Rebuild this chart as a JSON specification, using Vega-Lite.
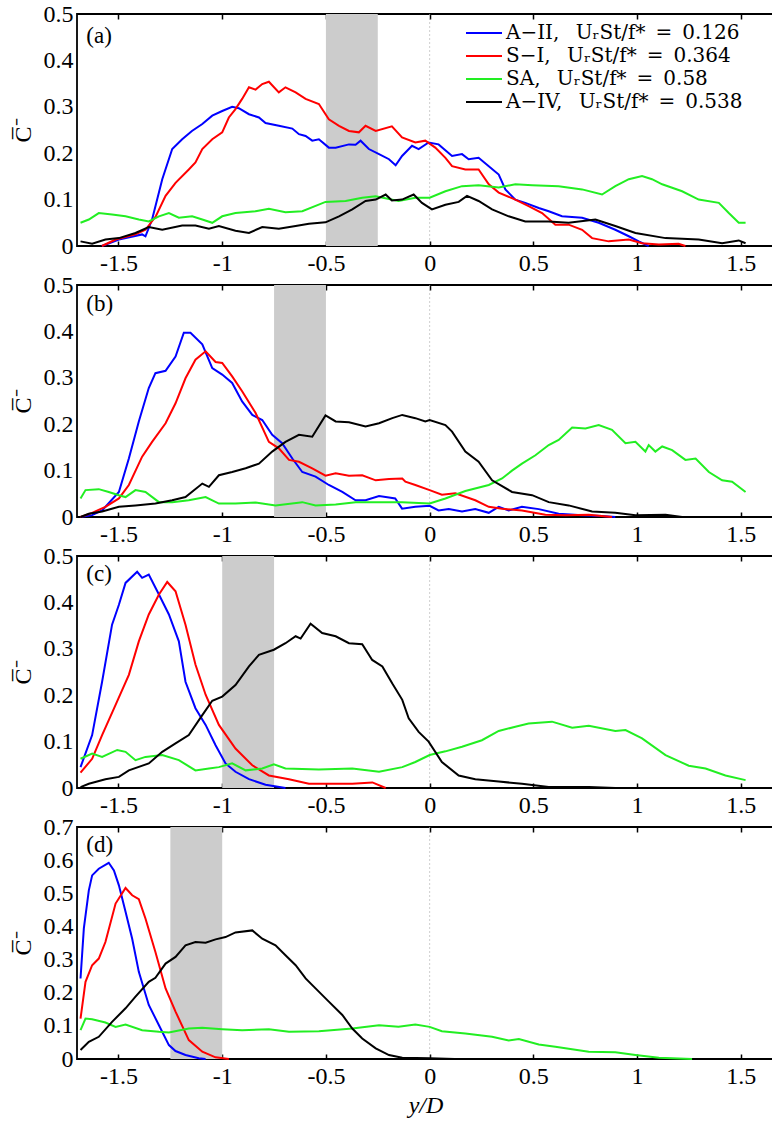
{
"$schema": "https://vega.github.io/schema/vega-lite/v6.json",
"padding": {"left": 10, "top": 1, "right": 0, "bottom": 2},
"background": "white",
"config": {
  "view": {"stroke": "black", "strokeWidth": 1.8},
  "font": "Liberation Serif"
},
"datasets": {
  "bands": [{"p":"a","lo":-0.5,"hi":-0.25},{"p":"b","lo":-0.75,"hi":-0.5},{"p":"c","lo":-1.0,"hi":-0.75},{"p":"d","lo":-1.25,"hi":-1.0}],
  "labs": [{"p":"a","t":"(a)","lx":-1.655,"ly":0.452},{"p":"b","t":"(b)","lx":-1.655,"ly":0.459},{"p":"c","t":"(c)","lx":-1.655,"ly":0.461},{"p":"d","t":"(d)","lx":-1.655,"ly":0.645}],
  "zero": [{"z":0}],
  "d": [
{"p":"a","s":"A-II","x":-1.58,"y":0},{"p":"a","s":"A-II","x":-1.498,"y":0.014},{"p":"a","s":"A-II","x":-1.386,"y":0.025},{"p":"a","s":"A-II","x":-1.37,"y":0.021},{"p":"a","s":"A-II","x":-1.338,"y":0.057},{"p":"a","s":"A-II","x":-1.289,"y":0.144},{"p":"a","s":"A-II","x":-1.241,"y":0.209},{"p":"a","s":"A-II","x":-1.193,"y":0.23},{"p":"a","s":"A-II","x":-1.146,"y":0.248},{"p":"a","s":"A-II","x":-1.096,"y":0.263},{"p":"a","s":"A-II","x":-1.048,"y":0.281},{"p":"a","s":"A-II","x":-1.0,"y":0.291},{"p":"a","s":"A-II","x":-0.952,"y":0.3},{"p":"a","s":"A-II","x":-0.92,"y":0.297},{"p":"a","s":"A-II","x":-0.871,"y":0.284},{"p":"a","s":"A-II","x":-0.823,"y":0.277},{"p":"a","s":"A-II","x":-0.791,"y":0.265},{"p":"a","s":"A-II","x":-0.727,"y":0.259},{"p":"a","s":"A-II","x":-0.662,"y":0.253},{"p":"a","s":"A-II","x":-0.63,"y":0.241},{"p":"a","s":"A-II","x":-0.598,"y":0.237},{"p":"a","s":"A-II","x":-0.566,"y":0.227},{"p":"a","s":"A-II","x":-0.534,"y":0.23},{"p":"a","s":"A-II","x":-0.486,"y":0.212},{"p":"a","s":"A-II","x":-0.453,"y":0.212},{"p":"a","s":"A-II","x":-0.389,"y":0.219},{"p":"a","s":"A-II","x":-0.357,"y":0.218},{"p":"a","s":"A-II","x":-0.333,"y":0.227},{"p":"a","s":"A-II","x":-0.293,"y":0.209},{"p":"a","s":"A-II","x":-0.244,"y":0.198},{"p":"a","s":"A-II","x":-0.196,"y":0.187},{"p":"a","s":"A-II","x":-0.164,"y":0.174},{"p":"a","s":"A-II","x":-0.133,"y":0.194},{"p":"a","s":"A-II","x":-0.085,"y":0.216},{"p":"a","s":"A-II","x":-0.053,"y":0.209},{"p":"a","s":"A-II","x":-0.005,"y":0.223},{"p":"a","s":"A-II","x":0.043,"y":0.219},{"p":"a","s":"A-II","x":0.108,"y":0.194},{"p":"a","s":"A-II","x":0.156,"y":0.198},{"p":"a","s":"A-II","x":0.188,"y":0.187},{"p":"a","s":"A-II","x":0.236,"y":0.19},{"p":"a","s":"A-II","x":0.285,"y":0.172},{"p":"a","s":"A-II","x":0.333,"y":0.154},{"p":"a","s":"A-II","x":0.365,"y":0.122},{"p":"a","s":"A-II","x":0.413,"y":0.1},{"p":"a","s":"A-II","x":0.461,"y":0.093},{"p":"a","s":"A-II","x":0.526,"y":0.082},{"p":"a","s":"A-II","x":0.574,"y":0.075},{"p":"a","s":"A-II","x":0.638,"y":0.064},{"p":"a","s":"A-II","x":0.735,"y":0.061},{"p":"a","s":"A-II","x":0.815,"y":0.05},{"p":"a","s":"A-II","x":0.895,"y":0.035},{"p":"a","s":"A-II","x":0.96,"y":0.021},{"p":"a","s":"A-II","x":1.008,"y":0.01},{"p":"a","s":"A-II","x":1.056,"y":0},
{"p":"a","s":"S-I","x":-1.58,"y":0},{"p":"a","s":"S-I","x":-1.514,"y":0.014},{"p":"a","s":"S-I","x":-1.418,"y":0.025},{"p":"a","s":"S-I","x":-1.37,"y":0.035},{"p":"a","s":"S-I","x":-1.32,"y":0.064},{"p":"a","s":"S-I","x":-1.273,"y":0.108},{"p":"a","s":"S-I","x":-1.225,"y":0.136},{"p":"a","s":"S-I","x":-1.161,"y":0.165},{"p":"a","s":"S-I","x":-1.129,"y":0.18},{"p":"a","s":"S-I","x":-1.096,"y":0.209},{"p":"a","s":"S-I","x":-1.048,"y":0.23},{"p":"a","s":"S-I","x":-1.0,"y":0.245},{"p":"a","s":"S-I","x":-0.968,"y":0.277},{"p":"a","s":"S-I","x":-0.936,"y":0.295},{"p":"a","s":"S-I","x":-0.904,"y":0.317},{"p":"a","s":"S-I","x":-0.871,"y":0.342},{"p":"a","s":"S-I","x":-0.839,"y":0.337},{"p":"a","s":"S-I","x":-0.807,"y":0.349},{"p":"a","s":"S-I","x":-0.775,"y":0.354},{"p":"a","s":"S-I","x":-0.727,"y":0.331},{"p":"a","s":"S-I","x":-0.695,"y":0.342},{"p":"a","s":"S-I","x":-0.646,"y":0.331},{"p":"a","s":"S-I","x":-0.598,"y":0.317},{"p":"a","s":"S-I","x":-0.534,"y":0.306},{"p":"a","s":"S-I","x":-0.486,"y":0.273},{"p":"a","s":"S-I","x":-0.437,"y":0.259},{"p":"a","s":"S-I","x":-0.389,"y":0.248},{"p":"a","s":"S-I","x":-0.341,"y":0.245},{"p":"a","s":"S-I","x":-0.309,"y":0.259},{"p":"a","s":"S-I","x":-0.26,"y":0.248},{"p":"a","s":"S-I","x":-0.182,"y":0.258},{"p":"a","s":"S-I","x":-0.133,"y":0.234},{"p":"a","s":"S-I","x":-0.069,"y":0.223},{"p":"a","s":"S-I","x":-0.021,"y":0.227},{"p":"a","s":"S-I","x":0.027,"y":0.212},{"p":"a","s":"S-I","x":0.076,"y":0.19},{"p":"a","s":"S-I","x":0.108,"y":0.172},{"p":"a","s":"S-I","x":0.172,"y":0.165},{"p":"a","s":"S-I","x":0.236,"y":0.165},{"p":"a","s":"S-I","x":0.285,"y":0.133},{"p":"a","s":"S-I","x":0.333,"y":0.115},{"p":"a","s":"S-I","x":0.413,"y":0.1},{"p":"a","s":"S-I","x":0.477,"y":0.086},{"p":"a","s":"S-I","x":0.542,"y":0.071},{"p":"a","s":"S-I","x":0.606,"y":0.046},{"p":"a","s":"S-I","x":0.67,"y":0.046},{"p":"a","s":"S-I","x":0.735,"y":0.035},{"p":"a","s":"S-I","x":0.783,"y":0.017},{"p":"a","s":"S-I","x":0.863,"y":0.01},{"p":"a","s":"S-I","x":0.96,"y":0.014},{"p":"a","s":"S-I","x":1.024,"y":0.006},{"p":"a","s":"S-I","x":1.105,"y":0.003},{"p":"a","s":"S-I","x":1.2,"y":0.005},{"p":"a","s":"S-I","x":1.233,"y":0},
{"p":"a","s":"SA","x":-1.683,"y":0.05},{"p":"a","s":"SA","x":-1.643,"y":0.057},{"p":"a","s":"SA","x":-1.595,"y":0.071},{"p":"a","s":"SA","x":-1.531,"y":0.068},{"p":"a","s":"SA","x":-1.466,"y":0.064},{"p":"a","s":"SA","x":-1.402,"y":0.057},{"p":"a","s":"SA","x":-1.354,"y":0.053},{"p":"a","s":"SA","x":-1.305,"y":0.064},{"p":"a","s":"SA","x":-1.257,"y":0.071},{"p":"a","s":"SA","x":-1.209,"y":0.061},{"p":"a","s":"SA","x":-1.145,"y":0.064},{"p":"a","s":"SA","x":-1.096,"y":0.057},{"p":"a","s":"SA","x":-1.048,"y":0.05},{"p":"a","s":"SA","x":-1.0,"y":0.064},{"p":"a","s":"SA","x":-0.936,"y":0.071},{"p":"a","s":"SA","x":-0.839,"y":0.075},{"p":"a","s":"SA","x":-0.775,"y":0.08},{"p":"a","s":"SA","x":-0.695,"y":0.073},{"p":"a","s":"SA","x":-0.614,"y":0.075},{"p":"a","s":"SA","x":-0.502,"y":0.095},{"p":"a","s":"SA","x":-0.405,"y":0.097},{"p":"a","s":"SA","x":-0.325,"y":0.104},{"p":"a","s":"SA","x":-0.26,"y":0.107},{"p":"a","s":"SA","x":-0.15,"y":0.097},{"p":"a","s":"SA","x":-0.069,"y":0.104},{"p":"a","s":"SA","x":0,"y":0.104},{"p":"a","s":"SA","x":0.076,"y":0.118},{"p":"a","s":"SA","x":0.156,"y":0.129},{"p":"a","s":"SA","x":0.236,"y":0.131},{"p":"a","s":"SA","x":0.333,"y":0.126},{"p":"a","s":"SA","x":0.413,"y":0.133},{"p":"a","s":"SA","x":0.494,"y":0.131},{"p":"a","s":"SA","x":0.622,"y":0.129},{"p":"a","s":"SA","x":0.735,"y":0.122},{"p":"a","s":"SA","x":0.831,"y":0.111},{"p":"a","s":"SA","x":0.895,"y":0.129},{"p":"a","s":"SA","x":0.96,"y":0.144},{"p":"a","s":"SA","x":1.024,"y":0.151},{"p":"a","s":"SA","x":1.072,"y":0.144},{"p":"a","s":"SA","x":1.121,"y":0.133},{"p":"a","s":"SA","x":1.217,"y":0.118},{"p":"a","s":"SA","x":1.297,"y":0.1},{"p":"a","s":"SA","x":1.394,"y":0.093},{"p":"a","s":"SA","x":1.442,"y":0.071},{"p":"a","s":"SA","x":1.49,"y":0.05},{"p":"a","s":"SA","x":1.523,"y":0.05},
{"p":"a","s":"A-IV","x":-1.683,"y":0.01},{"p":"a","s":"A-IV","x":-1.627,"y":0.005},{"p":"a","s":"A-IV","x":-1.563,"y":0.014},{"p":"a","s":"A-IV","x":-1.498,"y":0.017},{"p":"a","s":"A-IV","x":-1.418,"y":0.028},{"p":"a","s":"A-IV","x":-1.354,"y":0.041},{"p":"a","s":"A-IV","x":-1.289,"y":0.035},{"p":"a","s":"A-IV","x":-1.193,"y":0.044},{"p":"a","s":"A-IV","x":-1.129,"y":0.044},{"p":"a","s":"A-IV","x":-1.064,"y":0.037},{"p":"a","s":"A-IV","x":-1.016,"y":0.043},{"p":"a","s":"A-IV","x":-0.936,"y":0.033},{"p":"a","s":"A-IV","x":-0.871,"y":0.028},{"p":"a","s":"A-IV","x":-0.807,"y":0.041},{"p":"a","s":"A-IV","x":-0.727,"y":0.037},{"p":"a","s":"A-IV","x":-0.646,"y":0.043},{"p":"a","s":"A-IV","x":-0.582,"y":0.048},{"p":"a","s":"A-IV","x":-0.502,"y":0.051},{"p":"a","s":"A-IV","x":-0.437,"y":0.064},{"p":"a","s":"A-IV","x":-0.373,"y":0.079},{"p":"a","s":"A-IV","x":-0.309,"y":0.097},{"p":"a","s":"A-IV","x":-0.26,"y":0.1},{"p":"a","s":"A-IV","x":-0.212,"y":0.111},{"p":"a","s":"A-IV","x":-0.182,"y":0.098},{"p":"a","s":"A-IV","x":-0.133,"y":0.1},{"p":"a","s":"A-IV","x":-0.077,"y":0.111},{"p":"a","s":"A-IV","x":-0.037,"y":0.093},{"p":"a","s":"A-IV","x":0.011,"y":0.079},{"p":"a","s":"A-IV","x":0.076,"y":0.089},{"p":"a","s":"A-IV","x":0.14,"y":0.095},{"p":"a","s":"A-IV","x":0.18,"y":0.108},{"p":"a","s":"A-IV","x":0.236,"y":0.097},{"p":"a","s":"A-IV","x":0.301,"y":0.079},{"p":"a","s":"A-IV","x":0.381,"y":0.064},{"p":"a","s":"A-IV","x":0.461,"y":0.053},{"p":"a","s":"A-IV","x":0.574,"y":0.053},{"p":"a","s":"A-IV","x":0.67,"y":0.05},{"p":"a","s":"A-IV","x":0.799,"y":0.057},{"p":"a","s":"A-IV","x":0.895,"y":0.043},{"p":"a","s":"A-IV","x":0.992,"y":0.028},{"p":"a","s":"A-IV","x":1.137,"y":0.017},{"p":"a","s":"A-IV","x":1.297,"y":0.014},{"p":"a","s":"A-IV","x":1.41,"y":0.006},{"p":"a","s":"A-IV","x":1.49,"y":0.012},{"p":"a","s":"A-IV","x":1.523,"y":0.006},
{"p":"b","s":"A-II","x":-1.683,"y":0},{"p":"b","s":"A-II","x":-1.627,"y":0.004},{"p":"b","s":"A-II","x":-1.579,"y":0.014},{"p":"b","s":"A-II","x":-1.498,"y":0.054},{"p":"b","s":"A-II","x":-1.45,"y":0.126},{"p":"b","s":"A-II","x":-1.402,"y":0.206},{"p":"b","s":"A-II","x":-1.354,"y":0.278},{"p":"b","s":"A-II","x":-1.322,"y":0.31},{"p":"b","s":"A-II","x":-1.273,"y":0.315},{"p":"b","s":"A-II","x":-1.225,"y":0.346},{"p":"b","s":"A-II","x":-1.185,"y":0.397},{"p":"b","s":"A-II","x":-1.153,"y":0.397},{"p":"b","s":"A-II","x":-1.096,"y":0.372},{"p":"b","s":"A-II","x":-1.048,"y":0.321},{"p":"b","s":"A-II","x":-1.0,"y":0.307},{"p":"b","s":"A-II","x":-0.952,"y":0.289},{"p":"b","s":"A-II","x":-0.904,"y":0.249},{"p":"b","s":"A-II","x":-0.855,"y":0.22},{"p":"b","s":"A-II","x":-0.807,"y":0.209},{"p":"b","s":"A-II","x":-0.759,"y":0.177},{"p":"b","s":"A-II","x":-0.711,"y":0.159},{"p":"b","s":"A-II","x":-0.662,"y":0.126},{"p":"b","s":"A-II","x":-0.614,"y":0.097},{"p":"b","s":"A-II","x":-0.55,"y":0.087},{"p":"b","s":"A-II","x":-0.486,"y":0.069},{"p":"b","s":"A-II","x":-0.421,"y":0.054},{"p":"b","s":"A-II","x":-0.357,"y":0.036},{"p":"b","s":"A-II","x":-0.309,"y":0.036},{"p":"b","s":"A-II","x":-0.244,"y":0.045},{"p":"b","s":"A-II","x":-0.196,"y":0.042},{"p":"b","s":"A-II","x":-0.166,"y":0.04},{"p":"b","s":"A-II","x":-0.133,"y":0.018},{"p":"b","s":"A-II","x":-0.069,"y":0.022},{"p":"b","s":"A-II","x":0,"y":0.024},{"p":"b","s":"A-II","x":0.043,"y":0.014},{"p":"b","s":"A-II","x":0.092,"y":0.017},{"p":"b","s":"A-II","x":0.156,"y":0.012},{"p":"b","s":"A-II","x":0.22,"y":0.017},{"p":"b","s":"A-II","x":0.285,"y":0.009},{"p":"b","s":"A-II","x":0.333,"y":0.022},{"p":"b","s":"A-II","x":0.381,"y":0.014},{"p":"b","s":"A-II","x":0.445,"y":0.022},{"p":"b","s":"A-II","x":0.526,"y":0.017},{"p":"b","s":"A-II","x":0.622,"y":0.007},{"p":"b","s":"A-II","x":0.735,"y":0.004},{"p":"b","s":"A-II","x":0.831,"y":0.002},{"p":"b","s":"A-II","x":0.895,"y":0},
{"p":"b","s":"S-I","x":-1.683,"y":0},{"p":"b","s":"S-I","x":-1.627,"y":0.009},{"p":"b","s":"S-I","x":-1.563,"y":0.022},{"p":"b","s":"S-I","x":-1.498,"y":0.04},{"p":"b","s":"S-I","x":-1.45,"y":0.069},{"p":"b","s":"S-I","x":-1.386,"y":0.13},{"p":"b","s":"S-I","x":-1.338,"y":0.162},{"p":"b","s":"S-I","x":-1.273,"y":0.202},{"p":"b","s":"S-I","x":-1.225,"y":0.245},{"p":"b","s":"S-I","x":-1.177,"y":0.299},{"p":"b","s":"S-I","x":-1.129,"y":0.339},{"p":"b","s":"S-I","x":-1.08,"y":0.357},{"p":"b","s":"S-I","x":-1.032,"y":0.334},{"p":"b","s":"S-I","x":-1.0,"y":0.332},{"p":"b","s":"S-I","x":-0.952,"y":0.303},{"p":"b","s":"S-I","x":-0.904,"y":0.271},{"p":"b","s":"S-I","x":-0.839,"y":0.224},{"p":"b","s":"S-I","x":-0.775,"y":0.162},{"p":"b","s":"S-I","x":-0.727,"y":0.148},{"p":"b","s":"S-I","x":-0.678,"y":0.123},{"p":"b","s":"S-I","x":-0.63,"y":0.119},{"p":"b","s":"S-I","x":-0.566,"y":0.105},{"p":"b","s":"S-I","x":-0.502,"y":0.089},{"p":"b","s":"S-I","x":-0.453,"y":0.094},{"p":"b","s":"S-I","x":-0.389,"y":0.089},{"p":"b","s":"S-I","x":-0.325,"y":0.09},{"p":"b","s":"S-I","x":-0.26,"y":0.079},{"p":"b","s":"S-I","x":-0.196,"y":0.082},{"p":"b","s":"S-I","x":-0.132,"y":0.083},{"p":"b","s":"S-I","x":-0.117,"y":0.076},{"p":"b","s":"S-I","x":-0.069,"y":0.069},{"p":"b","s":"S-I","x":0,"y":0.058},{"p":"b","s":"S-I","x":0.059,"y":0.048},{"p":"b","s":"S-I","x":0.124,"y":0.051},{"p":"b","s":"S-I","x":0.22,"y":0.036},{"p":"b","s":"S-I","x":0.285,"y":0.022},{"p":"b","s":"S-I","x":0.349,"y":0.018},{"p":"b","s":"S-I","x":0.445,"y":0.014},{"p":"b","s":"S-I","x":0.558,"y":0.005},{"p":"b","s":"S-I","x":0.654,"y":0.004},{"p":"b","s":"S-I","x":0.767,"y":0.005},{"p":"b","s":"S-I","x":0.879,"y":0},
{"p":"b","s":"SA","x":-1.683,"y":0.04},{"p":"b","s":"SA","x":-1.659,"y":0.058},{"p":"b","s":"SA","x":-1.595,"y":0.06},{"p":"b","s":"SA","x":-1.547,"y":0.054},{"p":"b","s":"SA","x":-1.498,"y":0.047},{"p":"b","s":"SA","x":-1.466,"y":0.043},{"p":"b","s":"SA","x":-1.418,"y":0.058},{"p":"b","s":"SA","x":-1.37,"y":0.054},{"p":"b","s":"SA","x":-1.305,"y":0.032},{"p":"b","s":"SA","x":-1.241,"y":0.032},{"p":"b","s":"SA","x":-1.161,"y":0.036},{"p":"b","s":"SA","x":-1.08,"y":0.043},{"p":"b","s":"SA","x":-1.016,"y":0.029},{"p":"b","s":"SA","x":-0.936,"y":0.029},{"p":"b","s":"SA","x":-0.839,"y":0.031},{"p":"b","s":"SA","x":-0.743,"y":0.025},{"p":"b","s":"SA","x":-0.614,"y":0.032},{"p":"b","s":"SA","x":-0.55,"y":0.025},{"p":"b","s":"SA","x":-0.453,"y":0.027},{"p":"b","s":"SA","x":-0.357,"y":0.032},{"p":"b","s":"SA","x":-0.26,"y":0.032},{"p":"b","s":"SA","x":-0.133,"y":0.032},{"p":"b","s":"SA","x":0,"y":0.029},{"p":"b","s":"SA","x":0.076,"y":0.04},{"p":"b","s":"SA","x":0.172,"y":0.056},{"p":"b","s":"SA","x":0.285,"y":0.069},{"p":"b","s":"SA","x":0.349,"y":0.083},{"p":"b","s":"SA","x":0.397,"y":0.1},{"p":"b","s":"SA","x":0.445,"y":0.115},{"p":"b","s":"SA","x":0.51,"y":0.133},{"p":"b","s":"SA","x":0.574,"y":0.155},{"p":"b","s":"SA","x":0.622,"y":0.166},{"p":"b","s":"SA","x":0.687,"y":0.193},{"p":"b","s":"SA","x":0.751,"y":0.191},{"p":"b","s":"SA","x":0.815,"y":0.198},{"p":"b","s":"SA","x":0.879,"y":0.188},{"p":"b","s":"SA","x":0.944,"y":0.159},{"p":"b","s":"SA","x":0.992,"y":0.162},{"p":"b","s":"SA","x":1.04,"y":0.141},{"p":"b","s":"SA","x":1.056,"y":0.155},{"p":"b","s":"SA","x":1.088,"y":0.141},{"p":"b","s":"SA","x":1.121,"y":0.152},{"p":"b","s":"SA","x":1.169,"y":0.144},{"p":"b","s":"SA","x":1.233,"y":0.123},{"p":"b","s":"SA","x":1.282,"y":0.126},{"p":"b","s":"SA","x":1.346,"y":0.097},{"p":"b","s":"SA","x":1.41,"y":0.079},{"p":"b","s":"SA","x":1.458,"y":0.076},{"p":"b","s":"SA","x":1.523,"y":0.054},
{"p":"b","s":"A-IV","x":-1.683,"y":0},{"p":"b","s":"A-IV","x":-1.643,"y":0.007},{"p":"b","s":"A-IV","x":-1.579,"y":0.012},{"p":"b","s":"A-IV","x":-1.498,"y":0.022},{"p":"b","s":"A-IV","x":-1.418,"y":0.025},{"p":"b","s":"A-IV","x":-1.322,"y":0.029},{"p":"b","s":"A-IV","x":-1.241,"y":0.036},{"p":"b","s":"A-IV","x":-1.177,"y":0.043},{"p":"b","s":"A-IV","x":-1.096,"y":0.072},{"p":"b","s":"A-IV","x":-1.064,"y":0.065},{"p":"b","s":"A-IV","x":-1.016,"y":0.09},{"p":"b","s":"A-IV","x":-0.952,"y":0.097},{"p":"b","s":"A-IV","x":-0.887,"y":0.105},{"p":"b","s":"A-IV","x":-0.823,"y":0.115},{"p":"b","s":"A-IV","x":-0.759,"y":0.141},{"p":"b","s":"A-IV","x":-0.695,"y":0.162},{"p":"b","s":"A-IV","x":-0.63,"y":0.177},{"p":"b","s":"A-IV","x":-0.566,"y":0.173},{"p":"b","s":"A-IV","x":-0.502,"y":0.219},{"p":"b","s":"A-IV","x":-0.453,"y":0.206},{"p":"b","s":"A-IV","x":-0.389,"y":0.204},{"p":"b","s":"A-IV","x":-0.309,"y":0.195},{"p":"b","s":"A-IV","x":-0.244,"y":0.202},{"p":"b","s":"A-IV","x":-0.18,"y":0.213},{"p":"b","s":"A-IV","x":-0.132,"y":0.22},{"p":"b","s":"A-IV","x":-0.069,"y":0.213},{"p":"b","s":"A-IV","x":-0.021,"y":0.206},{"p":"b","s":"A-IV","x":0,"y":0.209},{"p":"b","s":"A-IV","x":0.076,"y":0.198},{"p":"b","s":"A-IV","x":0.108,"y":0.184},{"p":"b","s":"A-IV","x":0.172,"y":0.141},{"p":"b","s":"A-IV","x":0.236,"y":0.119},{"p":"b","s":"A-IV","x":0.301,"y":0.079},{"p":"b","s":"A-IV","x":0.397,"y":0.054},{"p":"b","s":"A-IV","x":0.494,"y":0.047},{"p":"b","s":"A-IV","x":0.574,"y":0.032},{"p":"b","s":"A-IV","x":0.67,"y":0.025},{"p":"b","s":"A-IV","x":0.783,"y":0.012},{"p":"b","s":"A-IV","x":0.895,"y":0.009},{"p":"b","s":"A-IV","x":0.992,"y":0.004},{"p":"b","s":"A-IV","x":1.137,"y":0.005},{"p":"b","s":"A-IV","x":1.217,"y":0},
{"p":"c","s":"A-II","x":-1.683,"y":0.045},{"p":"c","s":"A-II","x":-1.627,"y":0.114},{"p":"c","s":"A-II","x":-1.579,"y":0.229},{"p":"c","s":"A-II","x":-1.531,"y":0.352},{"p":"c","s":"A-II","x":-1.498,"y":0.395},{"p":"c","s":"A-II","x":-1.466,"y":0.442},{"p":"c","s":"A-II","x":-1.41,"y":0.466},{"p":"c","s":"A-II","x":-1.386,"y":0.453},{"p":"c","s":"A-II","x":-1.354,"y":0.46},{"p":"c","s":"A-II","x":-1.305,"y":0.417},{"p":"c","s":"A-II","x":-1.257,"y":0.374},{"p":"c","s":"A-II","x":-1.209,"y":0.316},{"p":"c","s":"A-II","x":-1.177,"y":0.229},{"p":"c","s":"A-II","x":-1.129,"y":0.172},{"p":"c","s":"A-II","x":-1.08,"y":0.136},{"p":"c","s":"A-II","x":-1.032,"y":0.092},{"p":"c","s":"A-II","x":-0.984,"y":0.053},{"p":"c","s":"A-II","x":-0.936,"y":0.035},{"p":"c","s":"A-II","x":-0.871,"y":0.019},{"p":"c","s":"A-II","x":-0.791,"y":0.007},{"p":"c","s":"A-II","x":-0.695,"y":0},
{"p":"c","s":"S-I","x":-1.683,"y":0.033},{"p":"c","s":"S-I","x":-1.627,"y":0.063},{"p":"c","s":"S-I","x":-1.579,"y":0.114},{"p":"c","s":"S-I","x":-1.514,"y":0.179},{"p":"c","s":"S-I","x":-1.45,"y":0.244},{"p":"c","s":"S-I","x":-1.402,"y":0.316},{"p":"c","s":"S-I","x":-1.354,"y":0.374},{"p":"c","s":"S-I","x":-1.305,"y":0.417},{"p":"c","s":"S-I","x":-1.265,"y":0.444},{"p":"c","s":"S-I","x":-1.225,"y":0.424},{"p":"c","s":"S-I","x":-1.177,"y":0.352},{"p":"c","s":"S-I","x":-1.129,"y":0.266},{"p":"c","s":"S-I","x":-1.08,"y":0.201},{"p":"c","s":"S-I","x":-1.016,"y":0.136},{"p":"c","s":"S-I","x":-0.936,"y":0.085},{"p":"c","s":"S-I","x":-0.855,"y":0.049},{"p":"c","s":"S-I","x":-0.775,"y":0.027},{"p":"c","s":"S-I","x":-0.678,"y":0.019},{"p":"c","s":"S-I","x":-0.582,"y":0.009},{"p":"c","s":"S-I","x":-0.486,"y":0.009},{"p":"c","s":"S-I","x":-0.373,"y":0.009},{"p":"c","s":"S-I","x":-0.276,"y":0.012},{"p":"c","s":"S-I","x":-0.212,"y":0},
{"p":"c","s":"SA","x":-1.683,"y":0.063},{"p":"c","s":"SA","x":-1.627,"y":0.074},{"p":"c","s":"SA","x":-1.579,"y":0.067},{"p":"c","s":"SA","x":-1.506,"y":0.082},{"p":"c","s":"SA","x":-1.466,"y":0.078},{"p":"c","s":"SA","x":-1.418,"y":0.06},{"p":"c","s":"SA","x":-1.37,"y":0.067},{"p":"c","s":"SA","x":-1.289,"y":0.071},{"p":"c","s":"SA","x":-1.209,"y":0.06},{"p":"c","s":"SA","x":-1.129,"y":0.038},{"p":"c","s":"SA","x":-1.064,"y":0.042},{"p":"c","s":"SA","x":-1.016,"y":0.045},{"p":"c","s":"SA","x":-0.952,"y":0.053},{"p":"c","s":"SA","x":-0.887,"y":0.038},{"p":"c","s":"SA","x":-0.807,"y":0.042},{"p":"c","s":"SA","x":-0.751,"y":0.051},{"p":"c","s":"SA","x":-0.695,"y":0.042},{"p":"c","s":"SA","x":-0.534,"y":0.04},{"p":"c","s":"SA","x":-0.373,"y":0.042},{"p":"c","s":"SA","x":-0.244,"y":0.035},{"p":"c","s":"SA","x":-0.132,"y":0.045},{"p":"c","s":"SA","x":-0.069,"y":0.056},{"p":"c","s":"SA","x":0,"y":0.071},{"p":"c","s":"SA","x":0.076,"y":0.079},{"p":"c","s":"SA","x":0.156,"y":0.089},{"p":"c","s":"SA","x":0.252,"y":0.103},{"p":"c","s":"SA","x":0.333,"y":0.123},{"p":"c","s":"SA","x":0.413,"y":0.132},{"p":"c","s":"SA","x":0.477,"y":0.139},{"p":"c","s":"SA","x":0.59,"y":0.143},{"p":"c","s":"SA","x":0.687,"y":0.13},{"p":"c","s":"SA","x":0.767,"y":0.134},{"p":"c","s":"SA","x":0.895,"y":0.123},{"p":"c","s":"SA","x":0.944,"y":0.125},{"p":"c","s":"SA","x":1.024,"y":0.107},{"p":"c","s":"SA","x":1.137,"y":0.071},{"p":"c","s":"SA","x":1.249,"y":0.048},{"p":"c","s":"SA","x":1.33,"y":0.042},{"p":"c","s":"SA","x":1.426,"y":0.027},{"p":"c","s":"SA","x":1.523,"y":0.017},
{"p":"c","s":"A-IV","x":-1.683,"y":0.002},{"p":"c","s":"A-IV","x":-1.643,"y":0.009},{"p":"c","s":"A-IV","x":-1.563,"y":0.019},{"p":"c","s":"A-IV","x":-1.498,"y":0.024},{"p":"c","s":"A-IV","x":-1.45,"y":0.038},{"p":"c","s":"A-IV","x":-1.354,"y":0.053},{"p":"c","s":"A-IV","x":-1.289,"y":0.078},{"p":"c","s":"A-IV","x":-1.225,"y":0.096},{"p":"c","s":"A-IV","x":-1.161,"y":0.114},{"p":"c","s":"A-IV","x":-1.096,"y":0.157},{"p":"c","s":"A-IV","x":-1.048,"y":0.188},{"p":"c","s":"A-IV","x":-1.0,"y":0.197},{"p":"c","s":"A-IV","x":-0.936,"y":0.222},{"p":"c","s":"A-IV","x":-0.871,"y":0.262},{"p":"c","s":"A-IV","x":-0.823,"y":0.287},{"p":"c","s":"A-IV","x":-0.751,"y":0.298},{"p":"c","s":"A-IV","x":-0.695,"y":0.312},{"p":"c","s":"A-IV","x":-0.646,"y":0.327},{"p":"c","s":"A-IV","x":-0.622,"y":0.322},{"p":"c","s":"A-IV","x":-0.574,"y":0.354},{"p":"c","s":"A-IV","x":-0.518,"y":0.334},{"p":"c","s":"A-IV","x":-0.453,"y":0.327},{"p":"c","s":"A-IV","x":-0.389,"y":0.312},{"p":"c","s":"A-IV","x":-0.325,"y":0.31},{"p":"c","s":"A-IV","x":-0.277,"y":0.276},{"p":"c","s":"A-IV","x":-0.228,"y":0.262},{"p":"c","s":"A-IV","x":-0.18,"y":0.225},{"p":"c","s":"A-IV","x":-0.132,"y":0.19},{"p":"c","s":"A-IV","x":-0.101,"y":0.15},{"p":"c","s":"A-IV","x":-0.053,"y":0.121},{"p":"c","s":"A-IV","x":-0.005,"y":0.1},{"p":"c","s":"A-IV","x":0.059,"y":0.056},{"p":"c","s":"A-IV","x":0.14,"y":0.027},{"p":"c","s":"A-IV","x":0.22,"y":0.019},{"p":"c","s":"A-IV","x":0.333,"y":0.014},{"p":"c","s":"A-IV","x":0.445,"y":0.009},{"p":"c","s":"A-IV","x":0.574,"y":0.002},{"p":"c","s":"A-IV","x":0.767,"y":0.002},{"p":"c","s":"A-IV","x":0.895,"y":0},
{"p":"d","s":"A-II","x":-1.683,"y":0.243},{"p":"d","s":"A-II","x":-1.667,"y":0.394},{"p":"d","s":"A-II","x":-1.643,"y":0.509},{"p":"d","s":"A-II","x":-1.627,"y":0.554},{"p":"d","s":"A-II","x":-1.595,"y":0.574},{"p":"d","s":"A-II","x":-1.547,"y":0.592},{"p":"d","s":"A-II","x":-1.522,"y":0.569},{"p":"d","s":"A-II","x":-1.498,"y":0.524},{"p":"d","s":"A-II","x":-1.466,"y":0.444},{"p":"d","s":"A-II","x":-1.434,"y":0.363},{"p":"d","s":"A-II","x":-1.402,"y":0.263},{"p":"d","s":"A-II","x":-1.354,"y":0.163},{"p":"d","s":"A-II","x":-1.305,"y":0.102},{"p":"d","s":"A-II","x":-1.257,"y":0.042},{"p":"d","s":"A-II","x":-1.225,"y":0.024},{"p":"d","s":"A-II","x":-1.177,"y":0.012},{"p":"d","s":"A-II","x":-1.113,"y":0.002},{"p":"d","s":"A-II","x":-1.08,"y":0},
{"p":"d","s":"S-I","x":-1.683,"y":0.122},{"p":"d","s":"S-I","x":-1.659,"y":0.233},{"p":"d","s":"S-I","x":-1.627,"y":0.283},{"p":"d","s":"S-I","x":-1.595,"y":0.303},{"p":"d","s":"S-I","x":-1.563,"y":0.353},{"p":"d","s":"S-I","x":-1.514,"y":0.469},{"p":"d","s":"S-I","x":-1.466,"y":0.516},{"p":"d","s":"S-I","x":-1.434,"y":0.494},{"p":"d","s":"S-I","x":-1.402,"y":0.482},{"p":"d","s":"S-I","x":-1.37,"y":0.424},{"p":"d","s":"S-I","x":-1.322,"y":0.323},{"p":"d","s":"S-I","x":-1.273,"y":0.213},{"p":"d","s":"S-I","x":-1.225,"y":0.143},{"p":"d","s":"S-I","x":-1.161,"y":0.057},{"p":"d","s":"S-I","x":-1.096,"y":0.022},{"p":"d","s":"S-I","x":-1.032,"y":0.005},{"p":"d","s":"S-I","x":-0.968,"y":0},
{"p":"d","s":"SA","x":-1.683,"y":0.087},{"p":"d","s":"SA","x":-1.659,"y":0.122},{"p":"d","s":"SA","x":-1.627,"y":0.12},{"p":"d","s":"SA","x":-1.563,"y":0.11},{"p":"d","s":"SA","x":-1.514,"y":0.097},{"p":"d","s":"SA","x":-1.466,"y":0.104},{"p":"d","s":"SA","x":-1.386,"y":0.087},{"p":"d","s":"SA","x":-1.305,"y":0.082},{"p":"d","s":"SA","x":-1.257,"y":0.08},{"p":"d","s":"SA","x":-1.161,"y":0.092},{"p":"d","s":"SA","x":-1.096,"y":0.094},{"p":"d","s":"SA","x":-1.0,"y":0.09},{"p":"d","s":"SA","x":-0.904,"y":0.087},{"p":"d","s":"SA","x":-0.775,"y":0.09},{"p":"d","s":"SA","x":-0.678,"y":0.082},{"p":"d","s":"SA","x":-0.534,"y":0.084},{"p":"d","s":"SA","x":-0.373,"y":0.092},{"p":"d","s":"SA","x":-0.244,"y":0.102},{"p":"d","s":"SA","x":-0.15,"y":0.097},{"p":"d","s":"SA","x":-0.069,"y":0.104},{"p":"d","s":"SA","x":0,"y":0.097},{"p":"d","s":"SA","x":0.059,"y":0.084},{"p":"d","s":"SA","x":0.172,"y":0.077},{"p":"d","s":"SA","x":0.301,"y":0.067},{"p":"d","s":"SA","x":0.381,"y":0.056},{"p":"d","s":"SA","x":0.43,"y":0.06},{"p":"d","s":"SA","x":0.526,"y":0.044},{"p":"d","s":"SA","x":0.606,"y":0.037},{"p":"d","s":"SA","x":0.767,"y":0.022},{"p":"d","s":"SA","x":0.895,"y":0.02},{"p":"d","s":"SA","x":0.992,"y":0.012},{"p":"d","s":"SA","x":1.105,"y":0.004},{"p":"d","s":"SA","x":1.265,"y":0},
{"p":"d","s":"A-IV","x":-1.683,"y":0.027},{"p":"d","s":"A-IV","x":-1.643,"y":0.052},{"p":"d","s":"A-IV","x":-1.595,"y":0.067},{"p":"d","s":"A-IV","x":-1.531,"y":0.112},{"p":"d","s":"A-IV","x":-1.466,"y":0.153},{"p":"d","s":"A-IV","x":-1.418,"y":0.188},{"p":"d","s":"A-IV","x":-1.354,"y":0.233},{"p":"d","s":"A-IV","x":-1.322,"y":0.245},{"p":"d","s":"A-IV","x":-1.273,"y":0.288},{"p":"d","s":"A-IV","x":-1.225,"y":0.308},{"p":"d","s":"A-IV","x":-1.177,"y":0.343},{"p":"d","s":"A-IV","x":-1.129,"y":0.353},{"p":"d","s":"A-IV","x":-1.08,"y":0.351},{"p":"d","s":"A-IV","x":-1.032,"y":0.361},{"p":"d","s":"A-IV","x":-0.984,"y":0.368},{"p":"d","s":"A-IV","x":-0.936,"y":0.382},{"p":"d","s":"A-IV","x":-0.855,"y":0.388},{"p":"d","s":"A-IV","x":-0.807,"y":0.363},{"p":"d","s":"A-IV","x":-0.743,"y":0.343},{"p":"d","s":"A-IV","x":-0.695,"y":0.313},{"p":"d","s":"A-IV","x":-0.646,"y":0.283},{"p":"d","s":"A-IV","x":-0.598,"y":0.243},{"p":"d","s":"A-IV","x":-0.55,"y":0.213},{"p":"d","s":"A-IV","x":-0.486,"y":0.173},{"p":"d","s":"A-IV","x":-0.421,"y":0.133},{"p":"d","s":"A-IV","x":-0.373,"y":0.092},{"p":"d","s":"A-IV","x":-0.325,"y":0.062},{"p":"d","s":"A-IV","x":-0.26,"y":0.032},{"p":"d","s":"A-IV","x":-0.196,"y":0.012},{"p":"d","s":"A-IV","x":-0.132,"y":0.004},{"p":"d","s":"A-IV","x":0,"y":0.002},{"p":"d","s":"A-IV","x":0.12,"y":0}
  ]
},
"spacing": 39,
"bounds": "flush",
"resolve": {"legend": {"color": "independent"}},
"vconcat": [
{
  "width": 697, "height": 232,
  "resolve": {"axis": {"x": "independent"}},
  "layer": [
    {"data": {"name": "bands"}, "transform": [{"filter": "datum.p === 'a'"}], "mark": {"type": "rect", "color": "#cccccc"},
     "encoding": {"x": {"field": "lo", "type": "quantitative", "scale": {"domain": [-1.7, 1.66], "nice": false, "zero": false}, "axis": {"orient": "top", "values": [-1.5,-1,-0.5,0,0.5,1,1.5], "labels": false, "grid": false, "domain": false, "tickSize": -5, "tickColor": "black", "tickWidth": 1.5, "title": null}}, "x2": {"field": "hi"}}},
    {"data": {"name": "zero"}, "mark": {"type": "rule", "color": "#b8b8b8", "strokeWidth": 0.7, "strokeDash": [2, 2]}, "encoding": {"x": {"field": "z", "type": "quantitative", "axis": null}}},
    {"data": {"name": "d"}, "transform": [{"filter": "datum.p === 'a'"}], "mark": {"type": "line", "strokeWidth": 2},
     "encoding": {
       "x": {"field": "x", "type": "quantitative", "axis": {"orient": "bottom", "values": [-1.5,-1,-0.5,0,0.5,1,1.5], "labelExpr": "datum.value + ''", "grid": false, "domain": false, "tickSize": -5, "tickColor": "black", "tickWidth": 1.5, "labelPadding": 10, "labelFont": "Liberation Serif", "labelFontSize": 24, "labelColor": "black", "labelFlush": false, "labelOverlap": false, "title": null}},
       "y": {"field": "y", "type": "quantitative", "scale": {"domain": [0, 0.5], "nice": false}, "axis": {"values": [0,0.1,0.2,0.3,0.4,0.5], "labelExpr": "datum.value + ''", "grid": false, "domain": false, "ticks": false, "labelPadding": 4, "labelFont": "Liberation Serif", "labelFontSize": 24, "labelColor": "black", "labelFlush": false, "labelOverlap": false, "title": "C̅⁻", "titleFont": "Liberation Serif", "titleFontSize": 24, "titleFontWeight": "normal", "titleColor": "black", "titlePadding": 8}},
       "color": {"field": "s", "type": "nominal", "scale": {"domain": ["A-II","S-I","SA","A-IV"], "range": ["#0000ff","#ff0000","#22ee22","#000000"]},
         "legend": {"orient": "none", "legendX": 404, "legendY": 8, "title": null, "padding": 0, "symbolType": "M-2.6,0H1", "symbolSize": 400, "symbolStrokeWidth": 2, "labelFont": "DejaVu Serif", "labelFontSize": 20, "labelColor": "black", "labelOffset": 3, "rowPadding": 2, "labelLimit": 400,
           "labelExpr": "datum.label === 'A-II' ? 'A−II,\u2002 UᵣSt/f*\u2002=\u20020.126' : datum.label === 'S-I' ? 'S−I,\u2002 UᵣSt/f*\u2002=\u20020.364' : datum.label === 'SA' ? 'SA,\u2002 UᵣSt/f*\u2002=\u20020.58' : 'A−IV,\u2002 UᵣSt/f*\u2002=\u20020.538'"}}
     }},
    {"data": {"name": "labs"}, "transform": [{"filter": "datum.p === 'a'"}], "mark": {"type": "text", "align": "left", "baseline": "middle", "fontSize": 23, "font": "Liberation Serif"},
     "encoding": {"x": {"field": "lx", "type": "quantitative", "axis": null}, "y": {"field": "ly", "type": "quantitative", "axis": {"values": [0,0.1,0.2,0.3,0.4,0.5], "labelExpr": "datum.value + ''", "grid": false, "domain": false, "ticks": false, "labelPadding": 4, "labelFont": "Liberation Serif", "labelFontSize": 24, "labelColor": "black", "labelFlush": false, "labelOverlap": false, "title": "C̅⁻", "titleFont": "Liberation Serif", "titleFontSize": 24, "titleFontWeight": "normal", "titleColor": "black", "titlePadding": 8}}, "text": {"field": "t"}}}
  ]
},
{
  "width": 697, "height": 232,
  "resolve": {"axis": {"x": "independent"}},
  "layer": [
    {"data": {"name": "bands"}, "transform": [{"filter": "datum.p === 'b'"}], "mark": {"type": "rect", "color": "#cccccc"},
     "encoding": {"x": {"field": "lo", "type": "quantitative", "scale": {"domain": [-1.7, 1.66], "nice": false, "zero": false}, "axis": {"orient": "top", "values": [-1.5,-1,-0.5,0,0.5,1,1.5], "labels": false, "grid": false, "domain": false, "tickSize": -5, "tickColor": "black", "tickWidth": 1.5, "title": null}}, "x2": {"field": "hi"}}},
    {"data": {"name": "zero"}, "mark": {"type": "rule", "color": "#b8b8b8", "strokeWidth": 0.7, "strokeDash": [2, 2]}, "encoding": {"x": {"field": "z", "type": "quantitative", "axis": null}}},
    {"data": {"name": "d"}, "transform": [{"filter": "datum.p === 'b'"}], "mark": {"type": "line", "strokeWidth": 2},
     "encoding": {
       "x": {"field": "x", "type": "quantitative", "axis": {"orient": "bottom", "values": [-1.5,-1,-0.5,0,0.5,1,1.5], "labelExpr": "datum.value + ''", "grid": false, "domain": false, "tickSize": -5, "tickColor": "black", "tickWidth": 1.5, "labelPadding": 10, "labelFont": "Liberation Serif", "labelFontSize": 24, "labelColor": "black", "labelFlush": false, "labelOverlap": false, "title": null}},
       "y": {"field": "y", "type": "quantitative", "scale": {"domain": [0, 0.5], "nice": false}, "axis": {"values": [0,0.1,0.2,0.3,0.4,0.5], "labelExpr": "datum.value + ''", "grid": false, "domain": false, "ticks": false, "labelPadding": 4, "labelFont": "Liberation Serif", "labelFontSize": 24, "labelColor": "black", "labelFlush": false, "labelOverlap": false, "title": "C̅⁻", "titleFont": "Liberation Serif", "titleFontSize": 24, "titleFontWeight": "normal", "titleColor": "black", "titlePadding": 8}},
       "color": {"field": "s", "type": "nominal", "scale": {"domain": ["A-II","S-I","SA","A-IV"], "range": ["#0000ff","#ff0000","#22ee22","#000000"]}, "legend": null}
     }},
    {"data": {"name": "labs"}, "transform": [{"filter": "datum.p === 'b'"}], "mark": {"type": "text", "align": "left", "baseline": "middle", "fontSize": 23, "font": "Liberation Serif"},
     "encoding": {"x": {"field": "lx", "type": "quantitative", "axis": null}, "y": {"field": "ly", "type": "quantitative", "axis": {"values": [0,0.1,0.2,0.3,0.4,0.5], "labelExpr": "datum.value + ''", "grid": false, "domain": false, "ticks": false, "labelPadding": 4, "labelFont": "Liberation Serif", "labelFontSize": 24, "labelColor": "black", "labelFlush": false, "labelOverlap": false, "title": "C̅⁻", "titleFont": "Liberation Serif", "titleFontSize": 24, "titleFontWeight": "normal", "titleColor": "black", "titlePadding": 8}}, "text": {"field": "t"}}}
  ]
},
{
  "width": 697, "height": 232,
  "resolve": {"axis": {"x": "independent"}},
  "layer": [
    {"data": {"name": "bands"}, "transform": [{"filter": "datum.p === 'c'"}], "mark": {"type": "rect", "color": "#cccccc"},
     "encoding": {"x": {"field": "lo", "type": "quantitative", "scale": {"domain": [-1.7, 1.66], "nice": false, "zero": false}, "axis": {"orient": "top", "values": [-1.5,-1,-0.5,0,0.5,1,1.5], "labels": false, "grid": false, "domain": false, "tickSize": -5, "tickColor": "black", "tickWidth": 1.5, "title": null}}, "x2": {"field": "hi"}}},
    {"data": {"name": "zero"}, "mark": {"type": "rule", "color": "#b8b8b8", "strokeWidth": 0.7, "strokeDash": [2, 2]}, "encoding": {"x": {"field": "z", "type": "quantitative", "axis": null}}},
    {"data": {"name": "d"}, "transform": [{"filter": "datum.p === 'c'"}], "mark": {"type": "line", "strokeWidth": 2},
     "encoding": {
       "x": {"field": "x", "type": "quantitative", "axis": {"orient": "bottom", "values": [-1.5,-1,-0.5,0,0.5,1,1.5], "labelExpr": "datum.value + ''", "grid": false, "domain": false, "tickSize": -5, "tickColor": "black", "tickWidth": 1.5, "labelPadding": 10, "labelFont": "Liberation Serif", "labelFontSize": 24, "labelColor": "black", "labelFlush": false, "labelOverlap": false, "title": null}},
       "y": {"field": "y", "type": "quantitative", "scale": {"domain": [0, 0.5], "nice": false}, "axis": {"values": [0,0.1,0.2,0.3,0.4,0.5], "labelExpr": "datum.value + ''", "grid": false, "domain": false, "ticks": false, "labelPadding": 4, "labelFont": "Liberation Serif", "labelFontSize": 24, "labelColor": "black", "labelFlush": false, "labelOverlap": false, "title": "C̅⁻", "titleFont": "Liberation Serif", "titleFontSize": 24, "titleFontWeight": "normal", "titleColor": "black", "titlePadding": 8}},
       "color": {"field": "s", "type": "nominal", "scale": {"domain": ["A-II","S-I","SA","A-IV"], "range": ["#0000ff","#ff0000","#22ee22","#000000"]}, "legend": null}
     }},
    {"data": {"name": "labs"}, "transform": [{"filter": "datum.p === 'c'"}], "mark": {"type": "text", "align": "left", "baseline": "middle", "fontSize": 23, "font": "Liberation Serif"},
     "encoding": {"x": {"field": "lx", "type": "quantitative", "axis": null}, "y": {"field": "ly", "type": "quantitative", "axis": {"values": [0,0.1,0.2,0.3,0.4,0.5], "labelExpr": "datum.value + ''", "grid": false, "domain": false, "ticks": false, "labelPadding": 4, "labelFont": "Liberation Serif", "labelFontSize": 24, "labelColor": "black", "labelFlush": false, "labelOverlap": false, "title": "C̅⁻", "titleFont": "Liberation Serif", "titleFontSize": 24, "titleFontWeight": "normal", "titleColor": "black", "titlePadding": 8}}, "text": {"field": "t"}}}
  ]
},
{
  "width": 697, "height": 232,
  "resolve": {"axis": {"x": "independent"}},
  "layer": [
    {"data": {"name": "bands"}, "transform": [{"filter": "datum.p === 'd'"}], "mark": {"type": "rect", "color": "#cccccc"},
     "encoding": {"x": {"field": "lo", "type": "quantitative", "scale": {"domain": [-1.7, 1.66], "nice": false, "zero": false}, "axis": {"orient": "top", "values": [-1.5,-1,-0.5,0,0.5,1,1.5], "labels": false, "grid": false, "domain": false, "tickSize": -5, "tickColor": "black", "tickWidth": 1.5, "title": null}}, "x2": {"field": "hi"}}},
    {"data": {"name": "zero"}, "mark": {"type": "rule", "color": "#b8b8b8", "strokeWidth": 0.7, "strokeDash": [2, 2]}, "encoding": {"x": {"field": "z", "type": "quantitative", "axis": null}}},
    {"data": {"name": "d"}, "transform": [{"filter": "datum.p === 'd'"}], "mark": {"type": "line", "strokeWidth": 2},
     "encoding": {
       "x": {"field": "x", "type": "quantitative", "axis": {"orient": "bottom", "values": [-1.5,-1,-0.5,0,0.5,1,1.5], "labelExpr": "datum.value + ''", "grid": false, "domain": false, "tickSize": -5, "tickColor": "black", "tickWidth": 1.5, "labelPadding": 10, "labelFont": "Liberation Serif", "labelFontSize": 24, "labelColor": "black", "labelFlush": false, "labelOverlap": false, "title": "y/D", "titleFont": "Liberation Serif", "titleFontSize": 24, "titleFontStyle": "italic", "titleFontWeight": "normal", "titleColor": "black", "titlePadding": 5}},
       "y": {"field": "y", "type": "quantitative", "scale": {"domain": [0, 0.7], "nice": false}, "axis": {"values": [0,0.1,0.2,0.3,0.4,0.5,0.6,0.7], "labelExpr": "datum.value + ''", "grid": false, "domain": false, "ticks": false, "labelPadding": 4, "labelFont": "Liberation Serif", "labelFontSize": 24, "labelColor": "black", "labelFlush": false, "labelOverlap": false, "title": "C̅⁻", "titleFont": "Liberation Serif", "titleFontSize": 24, "titleFontWeight": "normal", "titleColor": "black", "titlePadding": 8}},
       "color": {"field": "s", "type": "nominal", "scale": {"domain": ["A-II","S-I","SA","A-IV"], "range": ["#0000ff","#ff0000","#22ee22","#000000"]}, "legend": null}
     }},
    {"data": {"name": "labs"}, "transform": [{"filter": "datum.p === 'd'"}], "mark": {"type": "text", "align": "left", "baseline": "middle", "fontSize": 23, "font": "Liberation Serif"},
     "encoding": {"x": {"field": "lx", "type": "quantitative", "axis": null}, "y": {"field": "ly", "type": "quantitative", "axis": {"values": [0,0.1,0.2,0.3,0.4,0.5,0.6,0.7], "labelExpr": "datum.value + ''", "grid": false, "domain": false, "ticks": false, "labelPadding": 4, "labelFont": "Liberation Serif", "labelFontSize": 24, "labelColor": "black", "labelFlush": false, "labelOverlap": false, "title": "C̅⁻", "titleFont": "Liberation Serif", "titleFontSize": 24, "titleFontWeight": "normal", "titleColor": "black", "titlePadding": 8}}, "text": {"field": "t"}}}
  ]
}
]
}
